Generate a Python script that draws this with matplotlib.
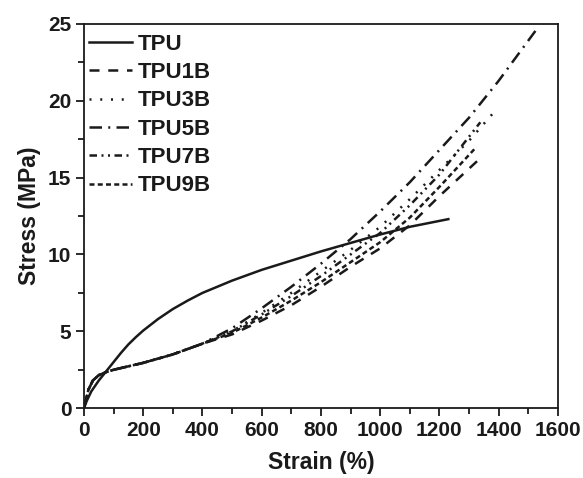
import matplotlib
matplotlib.use("Agg")
import matplotlib.pyplot as plt
from matplotlib.ticker import MultipleLocator

plt.rcParams['font.family'] = ['Liberation Sans', 'DejaVu Sans']
plt.rcParams['font.weight'] = 'bold'

# ---- data ----
labels = ["TPU", "TPU1B", "TPU3B", "TPU5B", "TPU7B", "TPU9B"]

tpu_x = [0, 10, 25, 50, 75, 100, 125, 150, 175, 200, 250, 300, 350, 400, 500, 600, 700, 800, 900, 1000, 1100, 1230]
tpu_y = [0, 0.5, 1.1, 1.8, 2.4, 3.0, 3.6, 4.15, 4.62, 5.05, 5.8, 6.45, 7.0, 7.5, 8.3, 9.0, 9.6, 10.2, 10.75, 11.3, 11.8, 12.3]

start_x = [0, 15, 30, 50, 75, 100, 200, 300, 400]
start_y = [0, 1.2, 1.8, 2.15, 2.35, 2.5, 2.95, 3.5, 4.2]

b1_x = start_x + [500, 600, 700, 800, 900, 1000, 1100, 1200, 1340]
b1_y = start_y + [4.8, 5.7, 6.7, 7.9, 9.2, 10.4, 11.9, 13.8, 16.3]

b3_x = start_x + [500, 600, 700, 800, 900, 1000, 1100, 1200, 1300, 1386]
b3_y = start_y + [5.0, 6.2, 7.5, 8.9, 10.3, 11.8, 13.6, 15.5, 17.4, 19.3]

b5_x = start_x + [500, 600, 700, 800, 900, 1000, 1100, 1200, 1300, 1400, 1530]
b5_y = start_y + [5.2, 6.5, 7.9, 9.4, 11.0, 12.8, 14.7, 16.8, 18.9, 21.3, 24.7]

b7_x = start_x + [500, 600, 700, 800, 900, 1000, 1100, 1200, 1338]
b7_y = start_y + [5.0, 6.1, 7.3, 8.6, 10.0, 11.4, 13.2, 15.2, 18.6]

b9_x = start_x + [500, 600, 700, 800, 900, 1000, 1100, 1200, 1325]
b9_y = start_y + [4.9, 5.9, 7.0, 8.2, 9.5, 10.8, 12.4, 14.4, 17.0]

xs = [tpu_x, b1_x, b3_x, b5_x, b7_x, b9_x]
ys = [tpu_y, b1_y, b3_y, b5_y, b7_y, b9_y]
styles = ['-', (0, (4, 3.5)), (0, (0.8, 3.5)), (0, (5, 2.5, 0.8, 2.5)),
          (0, (3, 1.8, 0.8, 1.8, 0.8, 1.8)), (0, (2, 1.3))]

fig = plt.figure(figsize=(5.83, 4.78), dpi=100)
ax = fig.add_axes([0.144, 0.146, 0.813, 0.804])

for x, y, ls, lab in zip(xs, ys, styles, labels):
    ax.plot(x, y, color='#1a1a1a', lw=1.8, linestyle=ls, label=lab)

ax.set_xlim(0, 1600)
ax.set_ylim(0, 25)
ax.xaxis.set_major_locator(MultipleLocator(200))
ax.xaxis.set_minor_locator(MultipleLocator(100))
ax.yaxis.set_major_locator(MultipleLocator(5))
ax.yaxis.set_minor_locator(MultipleLocator(2.5))
ax.tick_params(which='both', direction='out', top=False, right=False, labelsize=15, width=1.3, color='#1a1a1a', labelcolor='#1a1a1a')
ax.tick_params(which='major', length=6, pad=3)
ax.tick_params(which='minor', length=4)
for s in ax.spines.values():
    s.set_linewidth(1.3)
    s.set_color('#1a1a1a')
for t in ax.get_xticklabels() + ax.get_yticklabels():
    t.set_fontweight('bold')

ax.set_xlabel("Strain (%)", fontsize=16.5, fontweight='bold', labelpad=8, color='#1a1a1a')
ax.set_ylabel("Stress (MPa)", fontsize=16.5, fontweight='bold', labelpad=5, color='#1a1a1a')

leg = ax.legend(loc='upper left', bbox_to_anchor=(0.006, 0.98), frameon=False, handlelength=1.95,
                handletextpad=0.25, labelspacing=0.33, borderaxespad=0.0,
                borderpad=0.1, prop={'weight': 'bold', 'size': 16})
for t in leg.get_texts():
    t.set_color('#1a1a1a')

fig.savefig("out.png", dpi=100)
